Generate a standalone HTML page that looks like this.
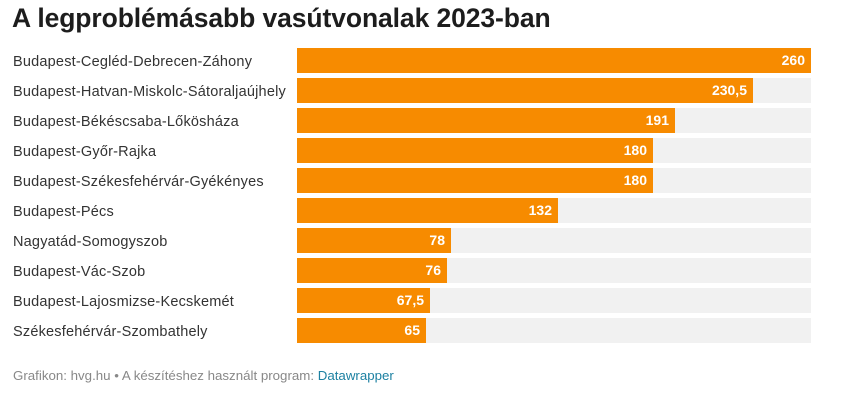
<!DOCTYPE html>
<html><head><meta charset="utf-8"><style>
body{margin:0;width:853px;height:412px;background:#fff;font-family:"Liberation Sans",Arial,sans-serif;position:relative;overflow:hidden}
.t{position:absolute;left:12px;top:3px;font-size:26.5px;font-weight:bold;color:#1d1d1d;letter-spacing:-0.1px}
.l{position:absolute;left:13px;font-size:14.5px;color:#333;line-height:25px;letter-spacing:0.2px;margin-top:1.5px}
.tr{position:absolute;left:297px;width:514px;height:25px;background:#f1f1f1}
.b{position:absolute;left:0;top:0;height:25px;background:#f78b00;color:#fff;font-weight:bold;font-size:14px;line-height:25px;text-align:right;box-sizing:border-box;padding-right:6px}
.f{position:absolute;left:13px;top:368px;font-size:13.3px;color:#888}
.f span{color:#1d81a2}
</style></head><body>
<div class="t">A legproblémásabb vasútvonalak 2023-ban</div>
<div class="l" style="top:48px">Budapest-Cegléd-Debrecen-Záhony</div><div class="tr" style="top:48px"><div class="b" style="width:514px">260</div></div>
<div class="l" style="top:78px">Budapest-Hatvan-Miskolc-Sátoraljaújhely</div><div class="tr" style="top:78px"><div class="b" style="width:456px">230,5</div></div>
<div class="l" style="top:108px">Budapest-Békéscsaba-Lőkösháza</div><div class="tr" style="top:108px"><div class="b" style="width:378px">191</div></div>
<div class="l" style="top:138px">Budapest-Győr-Rajka</div><div class="tr" style="top:138px"><div class="b" style="width:356px">180</div></div>
<div class="l" style="top:168px">Budapest-Székesfehérvár-Gyékényes</div><div class="tr" style="top:168px"><div class="b" style="width:356px">180</div></div>
<div class="l" style="top:198px">Budapest-Pécs</div><div class="tr" style="top:198px"><div class="b" style="width:261px">132</div></div>
<div class="l" style="top:228px">Nagyatád-Somogyszob</div><div class="tr" style="top:228px"><div class="b" style="width:154px">78</div></div>
<div class="l" style="top:258px">Budapest-Vác-Szob</div><div class="tr" style="top:258px"><div class="b" style="width:150px">76</div></div>
<div class="l" style="top:288px">Budapest-Lajosmizse-Kecskemét</div><div class="tr" style="top:288px"><div class="b" style="width:133px">67,5</div></div>
<div class="l" style="top:318px">Székesfehérvár-Szombathely</div><div class="tr" style="top:318px"><div class="b" style="width:129px">65</div></div>
<div class="f">Grafikon: hvg.hu • A készítéshez használt program: <span>Datawrapper</span></div>
</body></html>
